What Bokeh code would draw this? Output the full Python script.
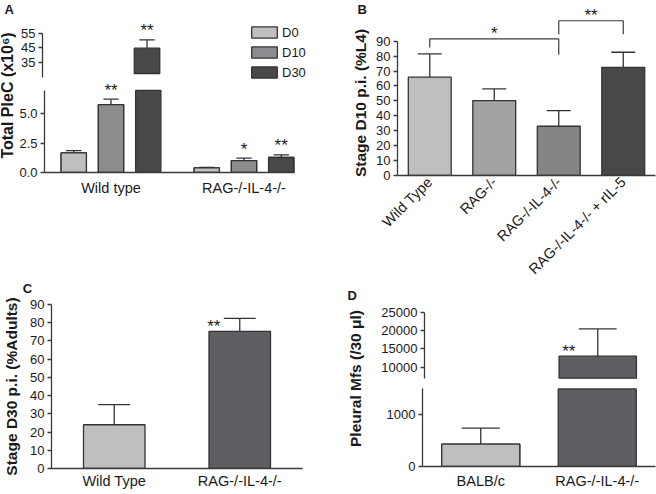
import math
import numpy as np
from bokeh.plotting import figure
from bokeh.models import (ColumnDataSource, FactorRange, Range1d, FixedTicker,
                          NumeralTickFormatter, Legend, LegendItem)
from bokeh.transform import dodge
from bokeh.layouts import row, column
from bokeh.embed import file_html
from bokeh.resources import INLINE
from bokeh.core.properties import value

# ---------------- data ----------------
# Panel A: total pleural cells (x10^6)
a_groups = ["Wild type", "RAG-/-IL-4-/-"]
a_days = ["D0", "D10", "D30"]
a_d0 = [1.67, 0.39]
a_d10 = [5.79, 1.02]
a_d30 = [44.8, 1.28]
a_d0_sem = [0.20, 0.04]
a_d10_sem = [0.47, 0.20]
a_d30_sem = [5.7, 0.22]
a_d0_sig = ["", ""]
a_d10_sig = ["**", "*"]
a_d30_sig = ["**", "**"]
a_lower_ticks = [0.0, 2.5, 5.0]
a_upper_ticks = [35, 45, 55]
a_lower_top = 7.0
a_upper_span = (25, 55)
a_upper_bar_from = 27.5

# Panel B: stage at D10 p.i. (% L4)
b_groups = ["Wild Type", "RAG-/-", "RAG-/-IL-4-/-", "RAG-/-IL-4-/- + rIL-5"]
b_mean = [65.9, 50.2, 33.0, 72.5]
b_sem = [15.6, 7.8, 10.5, 10.1]
b_ticks = [0, 10, 20, 30, 40, 50, 60, 70, 80, 90]
b_cmp_from = ["Wild Type", "RAG-/-IL-4-/-"]
b_cmp_to = ["RAG-/-IL-4-/-", "RAG-/-IL-4-/- + rIL-5"]
b_cmp_level = [91.6, 103.7]
b_cmp_from_end = [85.8, 94.7]
b_cmp_to_end = [80.9, 94.7]
b_cmp_sig = ["*", "**"]

# Panel C: stage at D30 p.i. (% adults)
c_groups = ["Wild Type", "RAG-/-IL-4-/-"]
c_mean = [24.0, 75.3]
c_sem = [11.1, 7.1]
c_sig = ["", "**"]
c_ticks = [0, 10, 20, 30, 40, 50, 60, 70, 80, 90]

# Panel D: pleural microfilariae (/30 ul)
d_groups = ["BALB/c", "RAG-/-IL-4-/-"]
d_mean = [433, 13000]
d_sem = [310, 7450]
d_sig = ["", "**"]
d_lower_ticks = [0, 1000]
d_upper_ticks = [10000, 15000, 20000, 25000]
d_lower_top = 1500
d_upper_span = (7000, 25000)

# ---------------- style ----------------
FONT = "Liberation Sans"
EDGE = "#333333"
AXC = "#3a3a3a"
TXT = "#1a1a1a"
LIGHT = "#bebfc1"
a_colors = {"D0": LIGHT, "D10": "#8b8c8e", "D30": "#47484a"}
b_colors = [LIGHT, "#a2a3a5", "#848587", "#47484a"]
c_colors = [LIGHT, "#5e5f62"]
d_colors = [LIGHT, "#5e5f62"]
YLAB = "15.5px"


def lin(v0, p0, v1, p1, top, bottom):
    k = (v1 - v0) / (p1 - p0)
    return v0 + (bottom - p0) * k, v0 + (top - p0) * k


def make_fig(x_range, y_range, box, frame, xaxis=True):
    fx, fy, fw, fh = box
    L, R, T, B = frame
    kw = {} if xaxis else {"x_axis_location": None}
    p = figure(x_range=x_range, y_range=y_range, width=fw, height=fh,
               output_backend="svg", toolbar_location=None, frame_align=False,
               min_border_left=L - fx, min_border_right=fx + fw - R,
               min_border_top=T - fy, min_border_bottom=fy + fh - B, **kw)
    p.outline_line_color = None
    p.xgrid.visible = False
    p.ygrid.visible = False
    return p


def label_fig(box, texts):
    fx, fy, fw, fh = box
    p = figure(width=fw, height=fh, x_range=Range1d(0, fw), y_range=Range1d(0, fh),
               output_backend="svg", toolbar_location=None, frame_align=False,
               x_axis_type=None, y_axis_type=None, min_border=0)
    p.outline_line_color = None
    p.grid.visible = False
    for t, x, y, ang, size, align, base in texts:
        p.text(x=[x], y=[fh - y], text=[t], angle=ang, text_align=align,
               text_baseline=base, text_font=value(FONT), text_font_size=size,
               text_font_style="bold", text_color=TXT)
    return p


def panel_letter(p, text, px, py, frame, n_cats, yr):
    # place a panel letter in the figure margin, converting pixel position to axis units
    L, R, T, B = frame
    unit = (R - L) / n_cats
    k = (yr[1] - yr[0]) / (B - T)
    p.text(x=[(px - L) / unit], y=[yr[0] + (B - py) * k], text=[text],
           text_align="left", text_baseline="top", text_font=value(FONT), text_font_size="13px",
           text_font_style="bold", text_color=TXT, level="overlay")


def style_y(ax, label=None, standoff=2):
    ax.axis_line_color = AXC
    ax.axis_line_width = 1.3
    ax.major_tick_line_color = AXC
    ax.major_tick_line_width = 1.3
    ax.major_tick_out = 4
    ax.major_tick_in = 0
    ax.minor_tick_line_color = None
    ax.minor_tick_out = 0
    ax.major_label_standoff = 3
    ax.major_label_text_font = FONT
    ax.major_label_text_font_size = "13px"
    ax.major_label_text_color = TXT
    if label is not None:
        ax.axis_label = label
        ax.axis_label_text_font = FONT
        ax.axis_label_text_font_size = YLAB
        ax.axis_label_text_font_style = "bold"
        ax.axis_label_text_color = TXT
        ax.axis_label_standoff = standoff


def style_x(ax, standoff):
    ax.axis_line_color = AXC
    ax.axis_line_width = 1.3
    ax.major_tick_line_color = None
    ax.minor_tick_line_color = None
    ax.major_tick_out = 0
    ax.major_tick_in = 0
    ax.minor_tick_out = 0
    ax.major_label_text_font = FONT
    ax.major_label_text_font_size = "14.5px"
    ax.major_label_text_color = TXT
    ax.major_label_standoff = standoff


def draw_part(p, cats, vals, sems, sigs, colors, off, width, cap, mask=None,
              bottoms=None, star_at="etop", star_dx=0, star_dy=-9, star_level="overlay"):
    vals = np.asarray(vals, float)
    sems = np.asarray(sems, float)
    idx = np.arange(len(vals)) if mask is None else np.where(mask)[0]
    if len(idx) == 0:
        return None
    bot = np.zeros(len(vals)) if bottoms is None else np.asarray(bottoms, float)
    s = ColumnDataSource(dict(
        x=[cats[i] for i in idx], top=vals[idx], bottom=bot[idx],
        etop=vals[idx] + sems[idx], sig=[sigs[i] for i in idx],
        color=[colors[i] for i in idx]))
    xb = dodge("x", off, range=p.x_range)
    r = p.vbar(x=xb, top="top", bottom="bottom", width=width, fill_color="color",
               line_color=EDGE, line_width=1.3, source=s)
    p.segment(x0=xb, y0="top", x1=xb, y1="etop", line_color=EDGE, line_width=1.3, source=s)
    p.segment(x0=dodge("x", off - cap / 2, range=p.x_range), y0="etop",
              x1=dodge("x", off + cap / 2, range=p.x_range), y1="etop",
              line_color=EDGE, line_width=1.3, source=s)
    p.text(x=xb, y=star_at, text="sig", source=s,
           text_align="center", text_baseline="alphabetic",
           x_offset=star_dx, y_offset=star_dy, text_color=TXT,
           text_font=value(FONT), text_font_size="17px", level=star_level)
    return r


def bar_only(p, cats, tops, color, off, width, visible=True):
    s = ColumnDataSource(dict(x=list(cats), top=list(tops)))
    return p.vbar(x=dodge("x", off, range=p.x_range), top="top", bottom=0, width=width,
                  fill_color=color, line_color=EDGE, line_width=1.3, source=s,
                  visible=visible)


# ================= Panel A (broken axis: upper + lower figure) =================
A_LBL = (0, 0, 16, 262)
A_TOP = (16, 0, 314, 80)
A_BOT = (16, 80, 314, 182)
A_TOP_FR = (42, 310, 0, 80)
A_BOT_FR = (42, 310, 80, 172)
xrA = FactorRange(factors=a_groups, range_padding=0)
pAt = make_fig(xrA, Range1d(*lin(55, 32.7, 35, 62, A_TOP_FR[2], A_TOP_FR[3])), A_TOP, A_TOP_FR,
               xaxis=False)
pAb = make_fig(xrA, Range1d(*lin(0, 172, 5, 113.4, A_BOT_FR[2], A_BOT_FR[3])), A_BOT, A_BOT_FR)
style_y(pAt.yaxis[0])
pAt.yaxis.bounds = a_upper_span
pAt.yaxis.ticker = FixedTicker(ticks=a_upper_ticks)
style_y(pAb.yaxis[0])
pAb.yaxis.bounds = (0, a_lower_top)
pAb.yaxis.ticker = FixedTicker(ticks=a_lower_ticks)
pAb.yaxis.formatter = NumeralTickFormatter(format="0.0")
style_x(pAb.xaxis[0], 7)

a_offsets = {"D0": -0.28, "D10": 0.0, "D30": 0.28}
a_bw = 0.19
a_cap = 0.115
a_vals = {"D0": (a_d0, a_d0_sem, a_d0_sig), "D10": (a_d10, a_d10_sem, a_d10_sig),
          "D30": (a_d30, a_d30_sem, a_d30_sig)}
a_leg = {}
for d in a_days:
    v, s, g = a_vals[d]
    v = np.asarray(v, float)
    cols = [a_colors[d]] * len(a_groups)
    broken = v > a_lower_top
    lower_tops = np.minimum(v, a_lower_top)
    # lower segment: all bars, cut at the axis break
    bar_only(pAb, a_groups, lower_tops, a_colors[d], a_offsets[d], a_bw)
    draw_part(pAb, a_groups, v, s, g, cols, a_offsets[d], a_bw, a_cap, mask=~broken)
    # upper segment: series handle for the legend + the bars that cross the break
    a_leg[d] = bar_only(pAt, a_groups, lower_tops, a_colors[d], a_offsets[d], a_bw, visible=False)
    draw_part(pAt, a_groups, v, s, g, cols, a_offsets[d], a_bw, a_cap, mask=broken,
              bottoms=np.full(len(v), a_upper_bar_from), star_level="glyph")
pAb.xaxis.bounds = (0, len(a_groups) - 0.5 + a_offsets["D30"] + a_bw / 2 + 0.005)
legend = Legend(items=[LegendItem(label=d, renderers=[a_leg[d]]) for d in a_days],
                location=(206, 0.5), orientation="vertical", glyph_width=32, glyph_height=14,
                spacing=5, padding=0, margin=0, label_standoff=2,
                border_line_color=None, background_fill_alpha=0,
                inactive_fill_alpha=0,
                label_text_font=FONT, label_text_font_size="13px", label_text_color=TXT)
legend.level = "overlay"
pAt.add_layout(legend)
lblA = label_fig(A_LBL, [("A", 4, 1, 0, "13px", "left", "top"),
                         ("Total PleC (x10\u2076)", 7, 95, math.pi / 2, "16px", "center", "middle")])

# ================= Panel B =================
B_BOX = (330, 0, 326, 287)
B_FR = (397, 655, 30, 175)
b_yr = lin(0, 175, 90, 40.7, B_FR[2], B_FR[3])
pB = make_fig(FactorRange(factors=b_groups, range_padding=0), Range1d(*b_yr), B_BOX, B_FR)
style_y(pB.yaxis[0], "Stage D10 p.i. (%L4)", 4)
pB.yaxis.bounds = (0, 90)
pB.yaxis.ticker = FixedTicker(ticks=b_ticks)
style_x(pB.xaxis[0], 4)
pB.xaxis.major_label_orientation = math.pi / 4
draw_part(pB, b_groups, b_mean, b_sem, [""] * len(b_groups), b_colors, 0.0, 0.665, 0.37)

cmp_src = ColumnDataSource(dict(
    a=b_cmp_from, b=b_cmp_to, y=b_cmp_level, ya=b_cmp_from_end, yb=b_cmp_to_end,
    sig=b_cmp_sig,
    mid=[(b_groups.index(f) + b_groups.index(t)) / 2 + 0.5 for f, t in zip(b_cmp_from, b_cmp_to)]))
for x0, y0, x1, y1 in (("a", "y", "b", "y"), ("a", "ya", "a", "y"), ("b", "yb", "b", "y")):
    pB.segment(x0=x0, y0=y0, x1=x1, y1=y1, source=cmp_src, line_color=AXC, line_width=1.2,
               level="overlay")
pB.text(x="mid", y="y", text="sig", source=cmp_src, text_align="center",
        text_baseline="alphabetic", y_offset=-5, text_color=TXT, text_font=value(FONT),
        text_font_size="17px", level="overlay")
panel_letter(pB, "B", 357, 1, B_FR, len(b_groups), b_yr)

# ================= Panel C =================
C_BOX = (0, 262, 330, 232)
C_FR = (49, 302, 304, 468)
c_yr = (0, 90)
pC = make_fig(FactorRange(factors=c_groups, range_padding=0), Range1d(*c_yr), C_BOX, C_FR)
style_y(pC.yaxis[0], "Stage D30 p.i. (%Adults)", 7)
pC.yaxis.ticker = FixedTicker(ticks=c_ticks)
style_x(pC.xaxis[0], 4)
draw_part(pC, c_groups, c_mean, c_sem, c_sig, c_colors, 0.0, 0.49, 0.254,
          star_at="top", star_dx=-26, star_dy=-5)
panel_letter(pC, "C", 20, 280, C_FR, len(c_groups), c_yr)

# ================= Panel D (broken axis: upper + lower figure) =================
D_LBL = (330, 287, 48, 207)
D_TOP = (378, 287, 278, 96)
D_BOT = (378, 383, 278, 111)
D_TOP_FR = (422, 655, 300, 383)
D_BOT_FR = (422, 655, 383, 466)
xrD = FactorRange(factors=d_groups, range_padding=0)
pDt = make_fig(xrD, Range1d(*lin(25000, 311.7, 10000, 366.7, D_TOP_FR[2], D_TOP_FR[3])), D_TOP,
               D_TOP_FR, xaxis=False)
pDb = make_fig(xrD, Range1d(*lin(0, 466, 1000, 414.3, D_BOT_FR[2], D_BOT_FR[3])), D_BOT, D_BOT_FR)
style_y(pDt.yaxis[0])
pDt.yaxis.bounds = d_upper_span
pDt.yaxis.ticker = FixedTicker(ticks=d_upper_ticks)
style_y(pDb.yaxis[0])
pDb.yaxis.bounds = (0, d_lower_top)
pDb.yaxis.ticker = FixedTicker(ticks=d_lower_ticks)
style_x(pDb.xaxis[0], 6)
d_v = np.asarray(d_mean, float)
d_broken = d_v > d_lower_top
for i, c in enumerate(d_colors):
    bar_only(pDb, d_groups[i:i + 1], np.minimum(d_v, d_lower_top)[i:i + 1], c, 0.0, 0.67)
draw_part(pDb, d_groups, d_mean, d_sem, d_sig, d_colors, 0.0, 0.67, 0.327, mask=~d_broken,
          star_at="top", star_dx=-29, star_dy=-5)
draw_part(pDt, d_groups, d_mean, d_sem, d_sig, d_colors, 0.0, 0.67, 0.327, mask=d_broken,
          bottoms=np.full(len(d_v), d_upper_span[0]), star_at="top", star_dx=-29, star_dy=-5,
          star_level="glyph")
lblD = label_fig(D_LBL, [("D", 17, 0, 0, "13px", "left", "top"),
                         ("Pleural Mfs (/30 \u03bcl)", 25, 91, math.pi / 2, YLAB, "center", "middle")])

layout = row(column(row(lblA, column(pAt, pAb)), pC),
             column(pB, row(lblD, column(pDt, pDb))))
open("out.html", "w").write(file_html(layout, INLINE))
